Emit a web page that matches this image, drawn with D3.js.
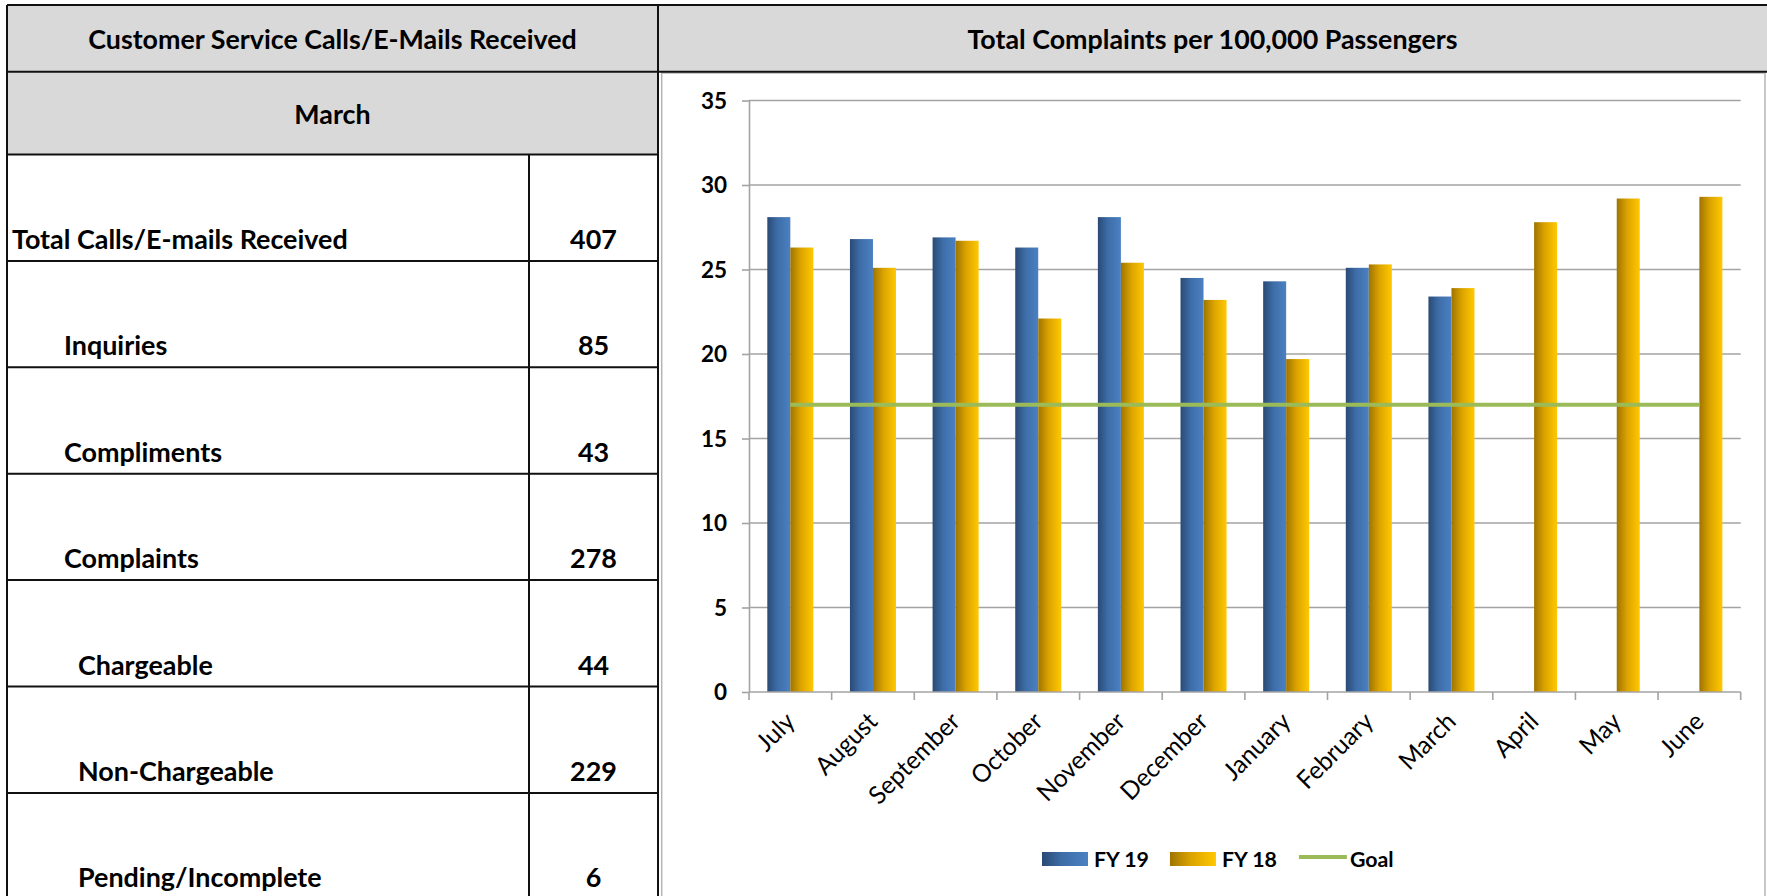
<!DOCTYPE html>
<html><head><meta charset="utf-8">
<script src="https://cdn.jsdelivr.net/npm/d3@7"></script>
<style>html,body{margin:0;padding:0;background:#fff;overflow:hidden}</style>
</head><body>
<svg id="c" width="1767" height="896"></svg>
<script>
// ---------------- DATA ----------------
const months = ["July","August","September","October","November","December","January","February","March","April","May","June"];
const fy19 = [28.1, 26.8, 26.9, 26.3, 28.1, 24.5, 24.3, 25.1, 23.4, null, null, null];
const fy18 = [26.3, 25.1, 26.7, 22.1, 25.4, 23.2, 19.7, 25.3, 23.9, 27.8, 29.2, 29.3];
const goal = [17, 17, 17, 17, 17, 17, 17, 17, 17, 17, 17, 17];
const yTicks = [0, 5, 10, 15, 20, 25, 30, 35];
const seriesNames = ["FY 19", "FY 18"];
const legendLabels = ["FY 19", "FY 18", "Goal"];
const tableTitle = "Customer Service Calls/E-Mails Received";
const chartTitle = "Total Complaints per 100,000 Passengers";
const tableMonth = "March";
const tableLabels = ["Total Calls/E-mails Received","Inquiries","Compliments","Complaints","Chargeable","Non-Chargeable","Pending/Incomplete"];
const tableValues = [407, 85, 43, 278, 44, 229, 6];
const tableLevels = [0, 1, 1, 1, 2, 2, 2];

// ---------------- LAYOUT ----------------
const W = 1767, H = 896;
const svg = d3.select('#c');
const FONT = "Lato, 'Open Sans', 'DejaVu Sans', sans-serif";

function measure(str, size, weight) {
  const t = svg.append('text').attr('font-family', FONT).attr('font-size', size)
    .attr('font-weight', weight).text(str);
  const w = t.node().getComputedTextLength(); t.remove(); return w;
}
// horizontal squeeze so Lato approximates the narrow, tall original face
let SX = 336 / measure(tableLabels[0], 27.5, 'bold');
SX = Math.max(0.75, Math.min(1.1, SX));

function txt(parent, x, y, s, o = {}) {
  const t = parent.append('text')
    .attr('transform', `translate(${x},${y}) rotate(${o.rotate || 0}) scale(${o.sx ?? SX},1)`)
    .attr('font-family', FONT).attr('font-size', o.size || 20)
    .attr('font-weight', o.weight || 'normal')
    .attr('text-anchor', o.anchor || 'start').attr('fill', '#000').text(s);
  if (o.dy) t.attr('dy', o.dy);
  return t;
}

// gradients
const defs = svg.append('defs');
function grad(id, stops) {
  const g = defs.append('linearGradient').attr('id', id).attr('x1', 0).attr('y1', 0).attr('x2', 1).attr('y2', 0);
  stops.forEach(([o, c]) => g.append('stop').attr('offset', o).attr('stop-color', c));
}
grad('gBlue', [[0, '#2a4a74'], [0.45, '#3e6ea9'], [1, '#4b80c2']]);
grad('gGold', [[0, '#9e7400'], [0.45, '#dba300'], [1, '#ffc800']]);
const fills = ['url(#gBlue)', 'url(#gGold)'];

// ---------- table / header ----------
const tL = 7, tR = 658, valX = 529, tTop = 5, hdrB = 71.7, marchB = 154.5, rowH = 106.4;
svg.append('rect').attr('x', tL).attr('y', tTop).attr('width', W - tL).attr('height', hdrB - tTop).attr('fill', '#d9d9d9');
svg.append('rect').attr('x', tL).attr('y', hdrB).attr('width', tR - tL).attr('height', marchB - hdrB).attr('fill', '#d9d9d9');

// chart panel
const pL = 661.7, pR = 1765, pT = 73;
svg.append('rect').attr('x', pL).attr('y', pT).attr('width', pR - pL).attr('height', H - pT + 10)
  .attr('fill', '#fff').attr('stroke', '#b5b5b5').attr('stroke-width', 1.5);

const lines = svg.append('g').attr('stroke', '#111').attr('stroke-width', 2);
function ln(x1, y1, x2, y2) { lines.append('line').attr('x1', x1).attr('y1', y1).attr('x2', x2).attr('y2', y2); }
ln(tL, tTop, W, tTop);
ln(tL, hdrB, W, hdrB);
ln(tL, tTop, tL, H);
ln(tR, tTop, tR, H);
ln(tL, marchB, tR, marchB);
ln(valX, marchB, valX, H);
tableLabels.forEach((_, i) => ln(tL, marchB + rowH * (i + 1), tR, marchB + rowH * (i + 1)));

txt(svg, (tL + tR) / 2, 49, tableTitle, { size: 27.4, weight: 'bold', anchor: 'middle' });
txt(svg, (tR + W) / 2, 49, chartTitle, { size: 27.4, weight: 'bold', anchor: 'middle' });
txt(svg, (tL + tR) / 2, 124, tableMonth, { size: 27.4, weight: 'bold', anchor: 'middle' });

const indents = [12, 64, 78];
tableLabels.forEach((lab, i) => {
  const base = marchB + rowH * (i + 1) - 12;
  txt(svg, indents[tableLevels[i]], base, lab, { size: 27.5, weight: 'bold' });
  txt(svg, (valX + tR) / 2, base, String(tableValues[i]), { size: 27.5, weight: 'bold', anchor: 'middle' });
});

// ---------- chart ----------
const plotL = 749, plotR = 1740.7, plotB = 692, plotT = 100.5;
const y = d3.scaleLinear().domain([0, 35]).range([plotB, plotT]);
const xb = d3.scaleBand().domain(months).range([plotL, plotR]).padding(0);
const x0 = d3.scaleBand().domain(months).range([plotL, plotR]).paddingInner(0.443).paddingOuter(0.2215);
const x1 = d3.scaleBand().domain(seriesNames).range([0, x0.bandwidth()]);
const gridC = '#a3a3a3';

const chart = svg.append('g');
// gridlines
chart.selectAll('line.grid').data(yTicks.filter(t => t > 0)).enter().append('line')
  .attr('x1', plotL).attr('x2', plotR).attr('y1', d => y(d)).attr('y2', d => y(d))
  .attr('stroke', gridC).attr('stroke-width', 1.6);

// y axis via d3 axis (ticks + line)
const yAx = chart.append('g').attr('transform', `translate(${plotL},0)`)
  .call(d3.axisLeft(y).tickValues(yTicks).tickSize(7).tickSizeOuter(0).tickFormat(''));
yAx.selectAll('path,line').attr('stroke', gridC).attr('stroke-width', 1.6);
yTicks.forEach(t => txt(chart, 727, y(t), String(t), { size: 23, weight: 'bold', anchor: 'end', dy: '0.36em' }));

// bars
const series = [fy19, fy18];
series.forEach((vals, si) => {
  chart.append('g').selectAll('rect').data(months.map((m, i) => ({ m, v: vals[i] })).filter(d => d.v != null))
    .enter().append('rect')
    .attr('x', d => x0(d.m) + x1(seriesNames[si]))
    .attr('width', x1.bandwidth())
    .attr('y', d => y(d.v)).attr('height', d => y(0) - y(d.v))
    .attr('fill', fills[si]);
});

// x axis line + boundary ticks
const bounds = months.map(m => xb(m)).concat([plotR]);
chart.append('line').attr('x1', plotL).attr('x2', plotR).attr('y1', plotB).attr('y2', plotB)
  .attr('stroke', gridC).attr('stroke-width', 1.6);
chart.selectAll('line.xt').data(bounds).enter().append('line')
  .attr('x1', d => d).attr('x2', d => d).attr('y1', plotB).attr('y2', plotB + 8)
  .attr('stroke', gridC).attr('stroke-width', 1.6);

// month labels
months.forEach(m => {
  txt(chart, xb(m) + xb.bandwidth() / 2 + 6, plotB + 31, m, { size: 25, anchor: 'end', rotate: -45 });
});

// goal line
const gl = d3.line().x((d, i) => xb(months[i]) + xb.bandwidth() / 2).y(d => y(d));
chart.append('path').attr('d', gl(goal)).attr('fill', 'none').attr('stroke', '#9bbb59').attr('stroke-width', 4);

// legend
const lg = svg.append('g');
const legY = 859;
let lx = 1042;
legendLabels.forEach((lab, i) => {
  if (i < 2) {
    lg.append('rect').attr('x', lx).attr('y', legY - 7).attr('width', 46).attr('height', 14).attr('fill', fills[i]);
  } else {
    lg.append('line').attr('x1', lx + 1).attr('x2', lx + 49).attr('y1', legY - 2).attr('y2', legY - 2)
      .attr('stroke', '#9bbb59').attr('stroke-width', 4);
  }
  const tx = lx + (i < 2 ? 52 : 52);
  const t = txt(lg, tx, legY + 8, lab, { size: 21.8, weight: 'bold' });
  const w = t.node().getComputedTextLength() * SX;
  lx = tx + w + 21;
});
</script>
</body></html>
